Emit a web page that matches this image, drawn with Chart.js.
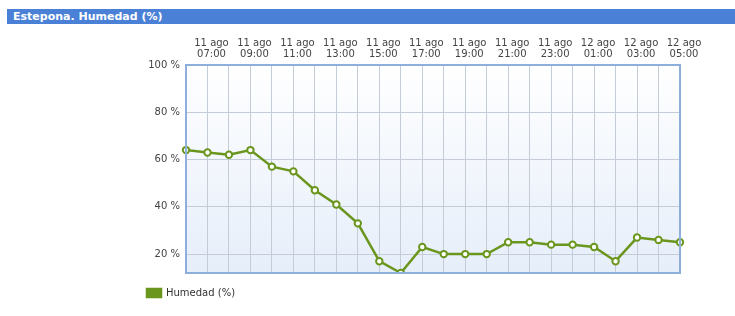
<!DOCTYPE html>
<html>
<head>
<meta charset="utf-8">
<script src="https://cdn.jsdelivr.net/npm/chart.js@4"></script>
<style>
  body { margin: 0; background: #fff; }
  #titulo {
    position: absolute; left: 7px; top: 9px; width: 728px; height: 15px;
    background: #4a80d6; color: #fff;
    font: bold 11px Verdana, "DejaVu Sans", sans-serif;
    line-height: 15px; padding-left: 6px; box-sizing: border-box;
  }
  #caja { position: absolute; left: 0; top: 0; width: 735px; height: 316px; }
</style>
</head>
<body>
<div id="titulo">Estepona. Humedad (%)</div>
<div id="caja"><canvas id="myChart"></canvas></div>
<script>
// horas (una por punto), de 11 ago 06:00 a 12 ago 05:00
var dias = ['11 ago','11 ago','11 ago','11 ago','11 ago','11 ago','11 ago','11 ago','11 ago','11 ago',
            '11 ago','11 ago','11 ago','11 ago','11 ago','11 ago','11 ago','11 ago',
            '12 ago','12 ago','12 ago','12 ago','12 ago','12 ago'];
var horas = ['06:00','07:00','08:00','09:00','10:00','11:00','12:00','13:00','14:00','15:00',
             '16:00','17:00','18:00','19:00','20:00','21:00','22:00','23:00',
             '00:00','01:00','02:00','03:00','04:00','05:00'];
var humedad = [64, 63, 62, 64, 57, 55, 47, 41, 33, 17, 12, 23, 20, 20, 20, 25, 25, 24, 24, 23, 17, 27, 26, 25];
var yTicks = [20, 40, 60, 80, 100];

document.addEventListener('DOMContentLoaded', (event) => {
    var ctx = document.getElementById('myChart').getContext('2d');

    // fondo degradado y borde azul del área del gráfico
    var fondo = {
        id: 'fondo',
        beforeDraw(chart) {
            var a = chart.chartArea, c = chart.ctx;
            var g = c.createLinearGradient(0, a.top, 0, a.bottom);
            g.addColorStop(0, '#ffffff');
            g.addColorStop(1, '#e6eefa');
            c.save();
            c.fillStyle = g;
            c.fillRect(a.left, a.top, a.right - a.left, a.bottom - a.top);
            c.restore();
        },
        afterDatasetsDraw(chart) {
            var a = chart.chartArea, c = chart.ctx;
            c.save();
            c.strokeStyle = '#8eaedc';
            c.lineWidth = 2;
            c.strokeRect(a.left, a.top, a.right - a.left, a.bottom - a.top);
            c.restore();
        }
    };

    var myChart = new Chart(ctx, {
        type: 'line',
        data: {
            labels: horas.map((h, i) => [dias[i], h]),
            datasets: [{
                label: 'Humedad (%)',
                data: humedad,
                borderColor: '#6a961e',
                backgroundColor: '#6a961e',
                borderWidth: 2.5,
                pointRadius: 3.2,
                pointBorderWidth: 2,
                pointBackgroundColor: '#ffffff',
                pointBorderColor: '#6a961e',
                tension: 0
            }]
        },
        options: {
            responsive: true,
            maintainAspectRatio: false,
            animation: false,
            layout: { padding: { left: 132, right: 55, top: 34, bottom: 8 } },
            plugins: {
                legend: {
                    position: 'bottom',
                    align: 'start',
                    labels: {
                        boxWidth: 14, boxHeight: 8, padding: 15,
                        color: '#333',
                        font: { family: 'Verdana, "DejaVu Sans", sans-serif', size: 10 }
                    }
                },
                tooltip: { enabled: false }
            },
            scales: {
                x: {
                    position: 'top',
                    afterFit(scale) { scale.height = 31; },
                    grid: { color: '#c4ccd8', drawTicks: false },
                    border: { display: false },
                    ticks: {
                        autoSkip: false,
                        maxRotation: 0,
                        padding: 5,
                        labelOffset: 4,
                        color: '#444',
                        font: { family: 'Verdana, "DejaVu Sans", sans-serif', size: 10, lineHeight: 1.1 },
                        callback: function (v, i) { return i % 2 === 1 ? this.getLabelForValue(v) : ''; }
                    }
                },
                y: {
                    min: 12,
                    max: 100,
                    afterFit(scale) { scale.width = 54; },
                    afterBuildTicks(scale) { scale.ticks = yTicks.map(v => ({ value: v })); },
                    grid: { color: '#c4ccd8', drawTicks: false },
                    border: { display: false },
                    ticks: {
                        padding: 6,
                        color: '#444',
                        font: { family: 'Verdana, "DejaVu Sans", sans-serif', size: 10 },
                        callback: v => v + ' %'
                    }
                }
            }
        },
        plugins: [fondo]
    });
});
</script>
</body>
</html>
